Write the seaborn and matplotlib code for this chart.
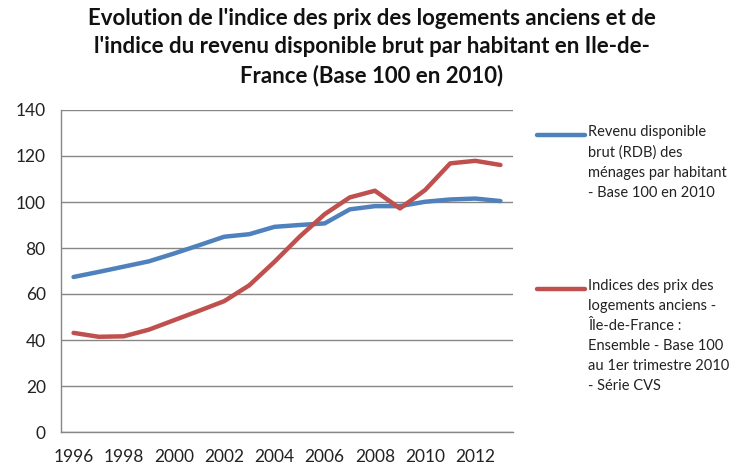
import matplotlib
matplotlib.use("Agg")
import matplotlib.pyplot as plt
from matplotlib.lines import Line2D
import seaborn as sns
import pandas as pd

years = list(range(1996, 2014))
rdb = [67.4, 69.6, 71.9, 74.2, 77.6, 81.2, 84.9, 86.0, 89.2, 90.0, 90.7, 96.8, 98.2, 98.2, 100.1, 101.1, 101.5, 100.4]
prix = [43.1, 41.4, 41.6, 44.5, 48.6, 52.7, 56.9, 63.8, 74.0, 84.9, 94.7, 102.0, 104.9, 97.2, 105.2, 116.8, 117.9, 116.1]
label_rdb = "Revenu disponible\nbrut (RDB) des\nménages par habitant\n- Base 100 en 2010"
label_prix = "Indices des prix des\nlogements anciens -\nÎle-de-France :\nEnsemble - Base 100\nau 1er trimestre 2010\n- Série CVS"
title = "Evolution de l'indice des prix des logements anciens et de\nl'indice du revenu disponible brut par habitant en Ile-de-\nFrance (Base 100 en 2010)"
tick_years = list(range(1996, 2013, 2))
yticks = list(range(0, 141, 20))

df = pd.DataFrame({"year": years * 2, "value": rdb + prix,
                   "serie": ["rdb"] * len(years) + ["prix"] * len(years)})

sns.set_theme(style="white")
plt.rcParams['font.family'] = ['Lato', 'DejaVu Sans']

W, H = 755, 469
fig = plt.figure(figsize=(W / 100, H / 100), dpi=100)
ax = fig.add_axes([61 / W, 1 - 432 / H, (513 - 61) / W, (432 - 110) / H])

blue = "#4F81BD"
red = "#C0504D"
sns.lineplot(data=df, x="year", y="value", hue="serie", palette={"rdb": blue, "prix": red},
             linewidth=3.2, ax=ax, legend=False)

ax.set_xlim(1995.5, 2013.5)
ax.set_ylim(0, 140)
ax.set_yticks(yticks)
ax.set_xticks(tick_years)
ax.set_xticks([y - 0.5 for y in years] + [2013.5], minor=True)
ax.tick_params(axis='x', which='major', length=0, labelsize=12.5, colors='#222222', pad=12)
ax.tick_params(axis='x', which='minor', length=5, width=1, color='#868686', direction='out')
ax.tick_params(axis='y', which='major', length=5, width=1, color='#868686', labelsize=12.5,
               labelcolor='#222222', direction='out', pad=6)
ax.set_xlabel("")
ax.set_ylabel("")
ax.grid(axis='y', color='#868686', linewidth=1)
ax.set_axisbelow(True)
for s in ['top', 'right']:
    ax.spines[s].set_visible(False)
for s in ['left', 'bottom']:
    ax.spines[s].set_color('#868686')
    ax.spines[s].set_linewidth(1)

fig.text(372 / W, 1 - 8 / H, title, ha='center', va='top', fontsize=16, fontweight='bold',
         color='#111111', linespacing=1.42)

# legend keys and texts
for ypix, lab, col in [(135, label_rdb, blue), (289, label_prix, red)]:
    fig.add_artist(Line2D([537 / W, 585 / W], [1 - ypix / H] * 2, color=col, linewidth=3.2,
                          transform=fig.transFigure))
    fig.text(588 / W, 1 - (ypix - 10) / H, lab, ha='left', va='top', fontsize=10.5,
             color='#222222', linespacing=1.55)

fig.savefig("out.png", dpi=100)
